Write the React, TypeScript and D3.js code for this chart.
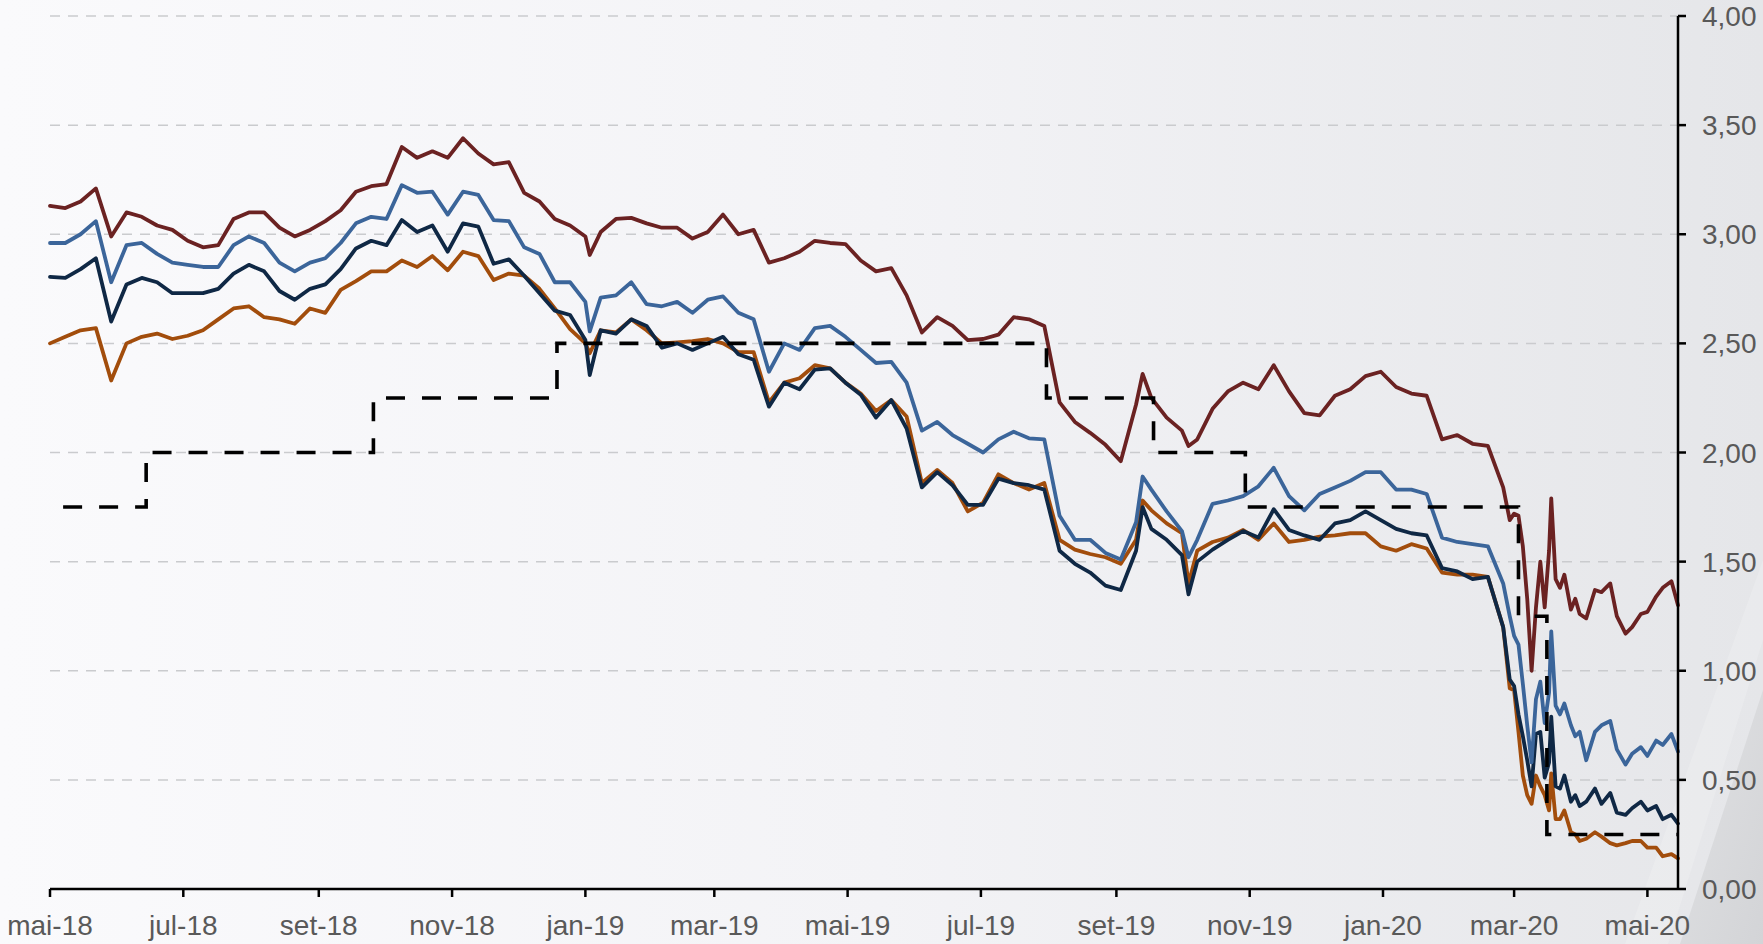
import React from "react";
import * as d3 from "d3";

const dates = [
  "2018-05-01","2018-05-08","2018-05-15","2018-05-22","2018-05-29","2018-06-05","2018-06-12","2018-06-19","2018-06-26","2018-07-03",
  "2018-07-10","2018-07-17","2018-07-24","2018-07-31","2018-08-07","2018-08-14","2018-08-21","2018-08-28","2018-09-04","2018-09-11",
  "2018-09-18","2018-09-25","2018-10-02","2018-10-09","2018-10-16","2018-10-23","2018-10-30","2018-11-06","2018-11-13","2018-11-20",
  "2018-11-27","2018-12-04","2018-12-11","2018-12-18","2018-12-25","2019-01-01","2019-01-03",
  "2019-01-08","2019-01-15","2019-01-22","2019-01-29","2019-02-05","2019-02-12","2019-02-19","2019-02-26","2019-03-05","2019-03-12",
  "2019-03-19","2019-03-26","2019-04-02","2019-04-09","2019-04-16","2019-04-23","2019-04-30","2019-05-07","2019-05-14","2019-05-21",
  "2019-05-28","2019-06-04","2019-06-11","2019-06-18","2019-06-25","2019-07-02","2019-07-09","2019-07-16","2019-07-23","2019-07-30",
  "2019-08-06","2019-08-13","2019-08-20","2019-08-27","2019-09-03","2019-09-10","2019-09-13",
  "2019-09-17","2019-09-24","2019-10-01","2019-10-04",
  "2019-10-08","2019-10-15","2019-10-22","2019-10-29","2019-11-05","2019-11-12","2019-11-19","2019-11-26","2019-12-03","2019-12-10",
  "2019-12-17","2019-12-24","2019-12-31","2020-01-07","2020-01-14","2020-01-21","2020-01-28","2020-02-04","2020-02-11","2020-02-18",
  "2020-02-25","2020-02-28","2020-03-01","2020-03-03","2020-03-05","2020-03-07","2020-03-09","2020-03-11","2020-03-13","2020-03-15",
  "2020-03-17","2020-03-18","2020-03-20","2020-03-22","2020-03-24","2020-03-27","2020-03-29","2020-03-31","2020-04-03","2020-04-07",
  "2020-04-10","2020-04-14","2020-04-17","2020-04-21","2020-04-24","2020-04-28","2020-05-01","2020-05-05","2020-05-08","2020-05-12",
  "2020-05-15",
];

const yield30 = [
  3.13, 3.12, 3.15, 3.21, 2.99, 3.10, 3.08, 3.04, 3.02, 2.97, 2.94, 2.95, 3.07, 3.10, 3.10, 3.03, 2.99, 3.02, 3.06, 3.11, 3.195, 3.22,
  3.23, 3.40, 3.35, 3.38, 3.35, 3.44, 3.37, 3.32, 3.33, 3.19, 3.15, 3.07, 3.04, 2.99, 2.905,
  3.01, 3.07, 3.075, 3.05, 3.03, 3.03, 2.98, 3.01, 3.09, 3.00, 3.02, 2.87, 2.89, 2.92, 2.97, 2.96, 2.955, 2.88, 2.83, 2.845, 2.72, 2.55,
  2.62, 2.58, 2.515, 2.52, 2.54, 2.62, 2.61, 2.58, 2.23, 2.14, 2.09, 2.035, 1.96, 2.22, 2.36,
  2.25, 2.16, 2.10, 2.03,
  2.06, 2.20, 2.28, 2.32, 2.29, 2.40, 2.28, 2.18, 2.17, 2.26, 2.29, 2.35, 2.37, 2.30, 2.27, 2.26, 2.06, 2.08, 2.04, 2.03,
  1.84, 1.69, 1.72, 1.71, 1.57, 1.33, 1.00, 1.29, 1.50, 1.29, 1.55, 1.79, 1.42, 1.38, 1.44, 1.28, 1.33, 1.26, 1.24, 1.37,
  1.36, 1.40, 1.25, 1.17, 1.20, 1.26, 1.27, 1.34, 1.38, 1.41, 1.30,
];

const yield10 = [
  2.96, 2.96, 3.00, 3.06, 2.78, 2.95, 2.96, 2.91, 2.87, 2.86, 2.85, 2.85, 2.95, 2.99, 2.96, 2.87, 2.83, 2.87, 2.89, 2.96, 3.05, 3.08,
  3.07, 3.225, 3.19, 3.195, 3.09, 3.195, 3.18, 3.065, 3.06, 2.94, 2.91, 2.78, 2.78, 2.69, 2.555,
  2.71, 2.72, 2.78, 2.68, 2.67, 2.69, 2.64, 2.70, 2.715, 2.64, 2.61, 2.37, 2.50, 2.47, 2.57, 2.58, 2.53, 2.47, 2.41, 2.415, 2.32, 2.10,
  2.14, 2.08, 2.04, 2.00, 2.06, 2.095, 2.065, 2.06, 1.71, 1.60, 1.60, 1.54, 1.51, 1.68, 1.89,
  1.83, 1.73, 1.64, 1.52,
  1.60, 1.765, 1.78, 1.80, 1.845, 1.93, 1.80, 1.735, 1.81, 1.84, 1.87, 1.91, 1.91, 1.83, 1.83, 1.81, 1.61, 1.59, 1.58, 1.57,
  1.40, 1.25, 1.16, 1.12, 0.94, 0.75, 0.58, 0.87, 0.95, 0.76, 0.90, 1.18, 0.84, 0.80, 0.85, 0.75, 0.70, 0.72, 0.59, 0.72,
  0.75, 0.77, 0.64, 0.57, 0.62, 0.65, 0.61, 0.68, 0.66, 0.71, 0.63,
];

const yield5 = [
  2.805, 2.80, 2.84, 2.89, 2.60, 2.77, 2.80, 2.78, 2.73, 2.73, 2.73, 2.75, 2.82, 2.86, 2.83, 2.74, 2.70, 2.75, 2.77, 2.84, 2.935, 2.97,
  2.95, 3.065, 3.01, 3.04, 2.92, 3.05, 3.035, 2.865, 2.885, 2.81, 2.73, 2.65, 2.63, 2.515, 2.355,
  2.56, 2.545, 2.61, 2.58, 2.48, 2.50, 2.47, 2.50, 2.53, 2.45, 2.425, 2.21, 2.32, 2.29, 2.38, 2.385, 2.32, 2.265, 2.16, 2.24, 2.11, 1.84,
  1.91, 1.85, 1.76, 1.76, 1.88, 1.86, 1.85, 1.83, 1.55, 1.49, 1.45, 1.39, 1.37, 1.55, 1.75,
  1.65, 1.60, 1.53, 1.35,
  1.50, 1.555, 1.60, 1.64, 1.61, 1.74, 1.645, 1.62, 1.60, 1.675, 1.69, 1.73, 1.69, 1.65, 1.63, 1.62, 1.47, 1.455, 1.42, 1.43,
  1.20, 0.96, 0.93, 0.80, 0.70, 0.59, 0.47, 0.71, 0.72, 0.51, 0.58, 0.79, 0.47, 0.46, 0.52, 0.40, 0.43, 0.38, 0.40, 0.46,
  0.39, 0.44, 0.35, 0.34, 0.37, 0.40, 0.36, 0.38, 0.32, 0.34, 0.30,
];

const yield2 = [
  2.50, 2.53, 2.56, 2.57, 2.33, 2.50, 2.53, 2.545, 2.52, 2.535, 2.56, 2.61, 2.66, 2.67, 2.62, 2.61, 2.59, 2.66, 2.64, 2.745, 2.785, 2.83,
  2.83, 2.88, 2.85, 2.90, 2.835, 2.92, 2.90, 2.79, 2.82, 2.81, 2.75, 2.66, 2.565, 2.50, 2.455,
  2.56, 2.55, 2.61, 2.56, 2.50, 2.505, 2.51, 2.52, 2.50, 2.46, 2.46, 2.23, 2.32, 2.34, 2.40, 2.385, 2.32, 2.27, 2.19, 2.24, 2.165, 1.86,
  1.92, 1.86, 1.73, 1.77, 1.90, 1.86, 1.83, 1.86, 1.60, 1.555, 1.535, 1.52, 1.49, 1.60, 1.78,
  1.735, 1.675, 1.63, 1.40,
  1.55, 1.59, 1.61, 1.645, 1.60, 1.675, 1.59, 1.60, 1.615, 1.62, 1.63, 1.63, 1.57, 1.55, 1.58, 1.56, 1.45, 1.44, 1.44, 1.43,
  1.20, 0.92, 0.91, 0.72, 0.52, 0.43, 0.39, 0.52, 0.47, 0.43, 0.36, 0.53, 0.32, 0.32, 0.36, 0.26, 0.25, 0.22, 0.23, 0.26,
  0.24, 0.21, 0.20, 0.21, 0.22, 0.22, 0.19, 0.19, 0.15, 0.16, 0.14,
];

const policyDates = ["2018-05-07","2018-06-14","2018-09-26","2018-12-19","2019-07-31","2019-09-18","2019-10-30","2020-03-03","2020-03-16","2020-05-15"];
const policyRates = [1.75, 2.00, 2.25, 2.50, 2.25, 2.00, 1.75, 1.25, 0.25, 0.25];

const xTickDates = ["2018-05-01","2018-07-01","2018-09-01","2018-11-01","2019-01-01","2019-03-01","2019-05-01","2019-07-01","2019-09-01","2019-11-01","2020-01-01","2020-03-01","2020-05-01"];
const xTickLabels = ["mai-18","jul-18","set-18","nov-18","jan-19","mar-19","mai-19","jul-19","set-19","nov-19","jan-20","mar-20","mai-20"];
const yTicks = [0, 0.5, 1, 1.5, 2, 2.5, 3, 3.5, 4];
const yTickLabels = ["0,00","0,50","1,00","1,50","2,00","2,50","3,00","3,50","4,00"];

const seriesColors = ["#A24D0C", "#0F2845", "#3B659A", "#6B2222"];

const W = 1763;
const H = 944;
const FONT = "'Liberation Sans', Arial, Helvetica, sans-serif";

export default function App() {
  const parse = d3.utcParse("%Y-%m-%d");
  const x = d3
    .scaleUtc()
    .domain([parse("2018-05-01")!, parse("2020-05-15")!])
    .range([50, 1678]);
  const y = d3.scaleLinear().domain([0, 4]).range([889, 16]);

  const line = d3
    .line<[Date, number]>()
    .x((d) => x(d[0]))
    .y((d) => y(d[1]));
  const step = d3
    .line<[Date, number]>()
    .x((d) => x(d[0]))
    .y((d) => y(d[1]))
    .curve(d3.curveStepAfter);

  const dd = dates.map((s) => parse(s)!);
  const series = [yield2, yield5, yield10, yield30].map((vals) =>
    vals.map((v, i) => [dd[i], v] as [Date, number])
  );
  const policy = policyDates.map((s, i) => [parse(s)!, policyRates[i]] as [Date, number]);

  const [x0, x1] = x.range();

  return (
    <svg
      width={W}
      height={H}
      style={{ position: "absolute", left: 0, top: 0, display: "block" }}
      fontFamily={FONT}
    >
      <defs>
        <linearGradient id="bg" x1="0" y1="0" x2="1" y2="0">
          <stop offset="0" stopColor="#fafafc" />
          <stop offset="0.5" stopColor="#f3f3f6" />
          <stop offset="1" stopColor="#e5e6e9" />
        </linearGradient>
        <linearGradient id="corner" x1="0" y1="0" x2="1" y2="1">
          <stop offset="0" stopColor="#e0e1e3" />
          <stop offset="1" stopColor="#d3d4d7" />
        </linearGradient>
      </defs>
      <rect x={0} y={0} width={W} height={H} fill="url(#bg)" />
      <polygon points={`${W},560 ${W},640 1668,${H} 1625,${H}`} fill="#ffffff" opacity={0.18} />
      <polygon points={`${W},690 ${W},${H} 1680,${H}`} fill="url(#corner)" />

      {yTicks.slice(1).map((t) => (
        <line
          key={"g" + t}
          x1={x0}
          x2={x1}
          y1={y(t)}
          y2={y(t)}
          stroke="#cacbce"
          strokeWidth={1.5}
          strokeDasharray="10 8"
        />
      ))}

      {series.map((s, i) => (
        <path
          key={"s" + i}
          d={line(s) || ""}
          fill="none"
          stroke={seriesColors[i]}
          strokeWidth={3.8}
          strokeLinejoin="round"
          strokeLinecap="round"
        />
      ))}

      <path
        d={step(policy) || ""}
        fill="none"
        stroke="#000000"
        strokeWidth={3.6}
        strokeDasharray="19 17"
      />

      <line x1={x0} x2={x1} y1={y(0)} y2={y(0)} stroke="#000" strokeWidth={2.5} />
      <line x1={x1} x2={x1} y1={y(4)} y2={y(0)} stroke="#000" strokeWidth={2.5} />

      {xTickDates.map((s, i) => {
        const xx = x(parse(s)!);
        return (
          <g key={"xt" + i}>
            <line x1={xx} x2={xx} y1={y(0)} y2={y(0) + 8} stroke="#000" strokeWidth={2.5} />
            <text x={xx} y={935} textAnchor="middle" fontSize={28} fill="#595959">
              {xTickLabels[i]}
            </text>
          </g>
        );
      })}

      {yTicks.map((t, i) => (
        <g key={"yt" + i}>
          <line x1={x1} x2={x1 + 8} y1={y(t)} y2={y(t)} stroke="#000" strokeWidth={2.5} />
          <text x={1702} y={y(t)} dy="0.36em" textAnchor="start" fontSize={28} fill="#595959">
            {yTickLabels[i]}
          </text>
        </g>
      ))}
    </svg>
  );
}
